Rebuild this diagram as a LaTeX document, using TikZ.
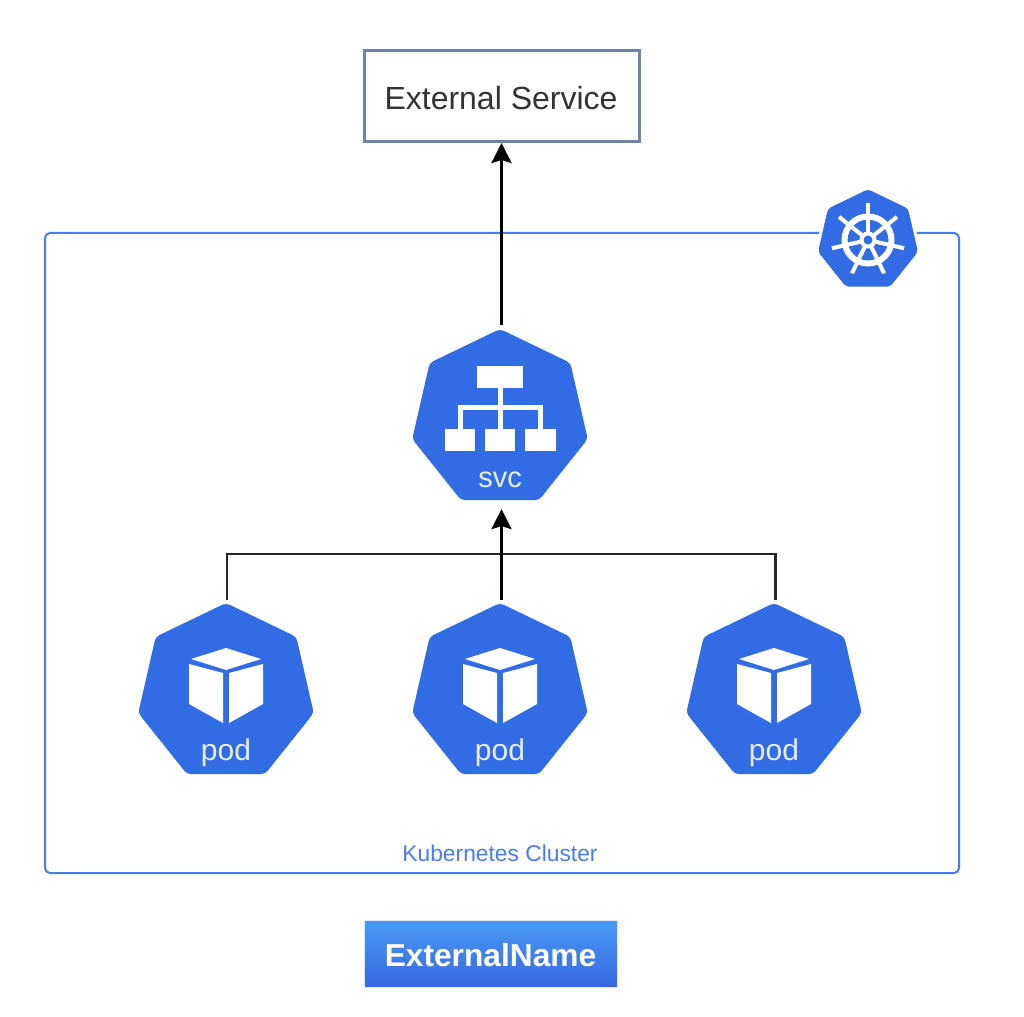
\documentclass[tikz,border=0pt]{standalone}
\usepackage{fontspec}
\setmainfont{Liberation Sans}
\usepackage{tikz}
\usetikzlibrary{arrows.meta,shapes.geometric}
\definecolor{kubeblue}{HTML}{326CE5}
\definecolor{clusterblue}{HTML}{4A7CEE}
\definecolor{edgegray}{HTML}{6F83A6}
\definecolor{typetop}{HTML}{4A9BF5}
\definecolor{typebottom}{HTML}{3568E0}
\newcommand{\fsize}[1]{\fontsize{#1}{#1}\selectfont}
\tikzset{
  kube/.style={regular polygon,regular polygon sides=7,minimum size=180pt,inner sep=0pt,outer sep=0pt,fill=kubeblue,rounded corners=4pt},
  icontext/.style={text=white!88!kubeblue,inner sep=0pt},
  link/.style={line width=2.5pt,black!85},
  flow/.style={line width=3pt,black,-{Stealth[length=20pt,width=20pt,inset=3pt]}},
  podicon/.pic={
    \fill[white] (0,-44) -- (35,-33) -- (0,-22) -- (-35,-33) -- cycle;
    \fill[white] (-37,-28) -- (-3,-19) -- (-3,31) -- (-37,12) -- cycle;
    \fill[white] (37,-28) -- (3,-19) -- (3,31) -- (37,12) -- cycle;
  },
  svcicon/.pic={
    \fill[white] (-23,-52) rectangle (23,-30);
    \fill[white] (-55,11) rectangle (-25,33);
    \fill[white] (-15,11) rectangle (15,33);
    \fill[white] (25,11) rectangle (56,33);
    \draw[white,line width=5pt] (0,-30) -- (0,11);
    \draw[white,line width=5pt] (-40,11) -- (-40,-11) -- (40,-11) -- (40,11);
  },
  wheelicon/.pic={
    \draw[white,line width=6pt] (0,0) circle (23.5);
    \draw[white,line width=4pt] (0,0) circle (6.5);
    \foreach \a in {0,...,6} {
      \draw[white,line width=4pt] (\a*360/7-90:7) -- (\a*360/7-90:37);
    }
  },
}

\begin{document}
\begin{tikzpicture}[x=1pt,y=-1pt]
\useasboundingbox (0,0) rectangle (1024,1016);
% cluster frame first, the wheel sits on top of it
\draw[clusterblue,line width=2pt,rounded corners=5pt] (45,233) rectangle (959,873);
\node[clusterblue,inner sep=0pt] (clusterlabel) at (500,853) {\fsize{22.8}Kubernetes Cluster};
\node[kube,minimum size=106pt,draw=white,line width=3pt] (wheel) at (868,240.5) {};
\pic at (868,240) {wheelicon};

\node[draw=edgegray,line width=3pt,fill=white,minimum width=275pt,minimum height=91pt,inner sep=0pt,outer sep=0pt] (external) at (501.5,96.5) {};
\node[text=black!80,inner sep=0pt] (externallabel) at (501,98) {\fsize{32}External Service};

\node[kube] (svc) at (500,419) {};
\pic at (500,418) {svcicon};
\node[icontext] (svclabel) at (500,480) {\fsize{29}svc};

\node[kube] (podl) at (226,693) {};
\node[kube] (podm) at (500,693) {};
\node[kube] (podr) at (774,693) {};
\pic at (226,692) {podicon};
\pic at (500,692) {podicon};
\pic at (774,692) {podicon};
\node[icontext] (podllabel) at (226,753) {\fsize{30}pod};
\node[icontext] (podmlabel) at (500,753) {\fsize{30}pod};
\node[icontext] (podrlabel) at (774,753) {\fsize{30}pod};

\coordinate (join) at (501,554);
\draw[link,shorten <=3pt] ([xshift=1pt]podl.north) |- (join);
\draw[link,shorten <=3pt] ([xshift=1.5pt]podr.north) |- (join);
\draw[flow,shorten <=3pt,shorten >=9pt] ([xshift=1.5pt]podm.north) -- ([xshift=1.5pt]svc.south);
\draw[flow,shorten <=4pt,shorten >=1pt] ([xshift=1.5pt]svc.north) -- (external.south);

\node[minimum width=253pt,minimum height=67pt,inner sep=0pt,outer sep=0pt,top color=typetop,bottom color=typebottom,draw=kubeblue!15!white,line width=1pt] (typebox) at (490.5,953.5) {};
\node[text=white,inner sep=0pt] (typelabel) at (490.5,955) {\fsize{31.7}\bfseries ExternalName};
\end{tikzpicture}
\end{document}
